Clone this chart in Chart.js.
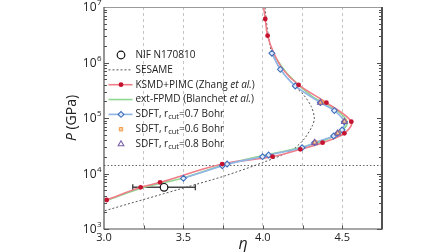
<!DOCTYPE html>
<html><head><meta charset="utf-8">
<script src="https://cdn.jsdelivr.net/npm/chart.js@4.4.0/dist/chart.umd.min.js"></script>
<style>html,body{margin:0;padding:0;background:#fff}#wrap{width:448px;height:252px}</style>
</head><body><div id="wrap"><canvas id="c" width="448" height="252"></canvas></div>
<script>
// ---- data ----
const xTickValues = [3.0, 3.5, 4.0, 4.5];
const xTickLabels = ['3.0', '3.5', '4.0', '4.5'];
const yTickExponents = [3, 4, 5, 6, 7];

const nifEta = [3.378];
const nifP = [5.64e3];
const nifEtaErr = [0.197];

const refLineP = [1.42e4];

const sesameEta = [3.006, 3.5, 3.757, 3.998, 4.173, 4.255, 4.311, 4.324, 4.305, 4.257, 4.215, 4.116, 4.059, 4.034, 4.018, 4.012];
const sesameP   = [2.14e3, 5.48e3, 9.0e3, 1.57e4, 2.54e4, 4.02e4, 7.2e4, 1.0e5, 1.6e5, 2.6e5, 3.43e5, 7.3e5, 1.42e6, 3.1e6, 7.2e6, 1.2e7];

const ksmdEta = [3.017, 3.231, 3.353, 3.744, 4.061, 4.236, 4.376, 4.513, 4.557, 4.40, 4.225, 4.03, 4.015];
const ksmdP   = [3.33e3, 5.63e3, 6.93e3, 1.48e4, 2.01e4, 2.73e4, 3.59e4, 5.3e4, 8.57e4, 1.89e5, 3.94e5, 3.04e6, 6.08e6];

const ksmdCurveEta = [3.017, 3.231, 3.353, 3.744, 4.061, 4.236, 4.376, 4.513, 4.557, 4.40, 4.225, 4.125, 4.068, 4.03, 4.015, 4.0];
const ksmdCurveP   = [3.33e3, 5.63e3, 6.93e3, 1.48e4, 2.01e4, 2.73e4, 3.59e4, 5.3e4, 8.57e4, 1.89e5, 3.94e5, 7.6e5, 1.5e6, 3.04e6, 6.08e6, 1.25e7];

const fpmdEta = [3.006, 3.25, 3.5, 3.75, 4.0, 4.25, 4.4, 4.5, 4.53, 4.46, 4.31, 4.16, 4.053];
const fpmdP   = [3.2e3, 5.6e3, 8.3e3, 1.42e4, 2.1e4, 3.0e4, 4.1e4, 6.0e4, 8.6e4, 1.4e5, 2.45e5, 6.0e5, 1.61e6];

const sdft07Eta = [3.5, 3.745, 3.775, 3.998, 4.036, 4.247, 4.326, 4.446, 4.471, 4.499, 4.513, 4.45, 4.362, 4.204, 4.11, 4.057];
const sdft07P   = [8.2e3, 1.38e4, 1.48e4, 2.01e4, 2.15e4, 2.92e4, 3.59e4, 4.74e4, 5.3e4, 6.08e4, 8.57e4, 1.36e5, 1.89e5, 3.78e5, 7.53e5, 1.47e6];

const sdft06Eta = [4.33, 4.475, 4.516, 4.37];
const sdft06P   = [3.65e4, 5.4e4, 8.7e4, 1.92e5];

const sdft08Eta = [4.326, 4.471, 4.513, 4.362];
const sdft08P   = [3.59e4, 5.3e4, 8.57e4, 1.89e5];

const legendTexts = [
  'NIF N170810',
  'SESAME',
  'KSMD+PIMC (Zhang <i>et al.</i>)',
  'ext-FPMD (Blanchet <i>et al.</i>)',
  'SDFT, r<sub>cut</sub>=0.7 Bohr',
  'SDFT, r<sub>cut</sub>=0.6 Bohr',
  'SDFT, r<sub>cut</sub>=0.8 Bohr'
];

// ---- chart ----
const FONT = '"Open Sans", "Noto Sans", "DejaVu Sans", sans-serif';
function pts(xs, ys) { return xs.map((x, i) => ({x: x, y: ys[i]})); }

const COL = {
  nif: '#111111', sesame: '#555555',
  ksmdDot: '#c4122f', ksmdLine: '#f07c88',
  fpmd: '#8fd68f',
  sdft07Line: '#8fb5e6', sdft07Edge: '#3f6fbf',
  sdft06: '#f29a45', sdft08: '#7b5fa8'
};

const datasets = [
  {data: pts(nifEta, nifP), showLine: false, pointStyle: 'circle', pointRadius: 3.8, pointBorderWidth: 1.2,
   pointBorderColor: COL.nif, pointBackgroundColor: '#ffffff'},
  {data: pts(ksmdEta, ksmdP), showLine: false, pointStyle: 'circle', pointRadius: 2.4, pointBorderWidth: 0,
   pointBackgroundColor: COL.ksmdDot, pointBorderColor: COL.ksmdDot},
  {data: pts(sdft08Eta, sdft08P), showLine: false, pointStyle: 'triangle', pointRadius: 3.3, pointBorderWidth: 1.1,
   pointBorderColor: COL.sdft08, pointBackgroundColor: 'rgba(0,0,0,0)'},
  {data: pts(sdft06Eta, sdft06P), showLine: false, pointStyle: 'rect', pointRadius: 2.4, pointBorderWidth: 1,
   pointBorderColor: COL.sdft06, pointBackgroundColor: 'rgba(248,190,130,0.7)'},
  {data: pts(sdft07Eta, sdft07P), showLine: true, tension: 0.3, borderColor: COL.sdft07Line, borderWidth: 1.6,
   pointStyle: 'rectRot', pointRadius: 2.9, pointBorderWidth: 1.1, pointBorderColor: COL.sdft07Edge,
   pointBackgroundColor: 'rgba(235,242,252,0.85)'},
  {data: pts(ksmdCurveEta, ksmdCurveP), showLine: true, tension: 0.35, borderColor: COL.ksmdLine, borderWidth: 1.6, pointRadius: 0},
  {data: pts(fpmdEta, fpmdP), showLine: true, tension: 0.35, borderColor: COL.fpmd, borderWidth: 1.6, pointRadius: 0},
  {data: pts(sesameEta, sesameP), showLine: true, tension: 0.3, borderColor: COL.sesame, borderWidth: 1,
   borderDash: [2, 2], pointRadius: 0}
];

function parseRich(s) {
  const out = []; let it = false, sub = false;
  s.split(/(<\/?i>|<\/?sub>)/).forEach(t => {
    if (t === '<i>') it = true; else if (t === '</i>') it = false;
    else if (t === '<sub>') sub = true; else if (t === '</sub>') sub = false;
    else if (t) out.push({t, it, sub});
  });
  return out;
}

const deco = {
  id: 'deco',
  beforeDatasetsDraw(chart) {
    const {ctx, chartArea: a, scales: {x, y}} = chart;
    ctx.save();
    ctx.strokeStyle = '#666'; ctx.lineWidth = 1; ctx.setLineDash([1.5, 2]);
    refLineP.forEach(p => {
      const py = Math.round(y.getPixelForValue(p)) + 0.5;
      ctx.beginPath(); ctx.moveTo(a.left, py); ctx.lineTo(a.right, py); ctx.stroke();
    });
    ctx.setLineDash([]); ctx.strokeStyle = '#444'; ctx.lineWidth = 1.4;
    nifEta.forEach((e, i) => {
      const py = y.getPixelForValue(nifP[i]);
      const x1 = x.getPixelForValue(e - nifEtaErr[i]), x2 = x.getPixelForValue(e + nifEtaErr[i]);
      ctx.beginPath();
      ctx.moveTo(x1, py); ctx.lineTo(x2, py);
      ctx.moveTo(x1, py - 3); ctx.lineTo(x1, py + 3);
      ctx.moveTo(x2, py - 3); ctx.lineTo(x2, py + 3);
      ctx.stroke();
    });
    ctx.restore();
  },
  afterDraw(chart) {
    const {ctx, chartArea: a, scales: {x, y}} = chart;
    ctx.save();
    // frame
    ctx.strokeStyle = '#9a9a9a'; ctx.lineWidth = 1;
    ctx.beginPath(); ctx.moveTo(a.left, a.top + 0.5); ctx.lineTo(a.right, a.top + 0.5); ctx.stroke();
    ctx.strokeStyle = '#505050'; ctx.lineWidth = 1.2;
    ctx.beginPath(); ctx.moveTo(a.left, a.top); ctx.lineTo(a.left, a.bottom); ctx.lineTo(a.right, a.bottom); ctx.stroke();
    ctx.lineWidth = 2;
    ctx.beginPath(); ctx.moveTo(a.right, a.top); ctx.lineTo(a.right, a.bottom + 0.6); ctx.stroke();
    // y ticks (log, both sides, inward)
    ctx.lineWidth = 1; ctx.strokeStyle = '#505050';
    for (let d = 3; d <= 6; d++) {
      for (let k = 1; k <= 9; k++) {
        const py = Math.round(y.getPixelForValue(k * Math.pow(10, d))) + 0.5;
        const len = k === 1 ? 5 : 3;
        ctx.beginPath();
        ctx.moveTo(a.left, py); ctx.lineTo(a.left + len, py);
        ctx.moveTo(a.right, py); ctx.lineTo(a.right - len, py);
        ctx.stroke();
      }
    }
    // x ticks inward
    x.ticks.forEach(t => {
      const px = Math.round(x.getPixelForValue(t.value)) + 0.5;
      if (px <= a.left + 1 || px >= a.right - 1) return;
      ctx.beginPath(); ctx.moveTo(px, a.bottom); ctx.lineTo(px, a.bottom - 3.5); ctx.stroke();
    });
    // y tick labels with superscript
    ctx.fillStyle = '#222';
    yTickExponents.forEach(e => {
      const py = y.getPixelForValue(Math.pow(10, e));
      ctx.font = '12px ' + FONT; ctx.textAlign = 'right'; ctx.textBaseline = 'middle';
      ctx.fillText('10', 96.5, py + 1);
      ctx.font = '8px ' + FONT; ctx.textAlign = 'left';
      ctx.fillText(String(e), 97, py - 4);
    });
    // axis titles
    ctx.save();
    ctx.translate(72, (a.top + a.bottom) / 2); ctx.rotate(-Math.PI / 2);
    ctx.textBaseline = 'middle'; ctx.textAlign = 'left';
    const f1 = 'italic 14px ' + FONT, f2 = '14px ' + FONT;
    ctx.font = f1; const w1 = ctx.measureText('P').width;
    ctx.font = f2; const w2 = ctx.measureText(' (GPa)').width;
    let sx = -(w1 + w2) / 2;
    ctx.font = f1; ctx.fillText('P', sx, 0);
    ctx.font = f2; ctx.fillText(' (GPa)', sx + w1, 0);
    ctx.restore();
    ctx.font = 'italic 16px ' + FONT; ctx.textAlign = 'center'; ctx.textBaseline = 'middle';
    ctx.fillText('\u03B7', (a.left + a.right) / 2, 244);
    // legend
    const ds = chart.data.datasets;
    const items = [
      {line: null, mk: ds[0]},
      {line: ds[7], mk: null},
      {line: ds[5], mk: ds[1]},
      {line: ds[6], mk: null},
      {line: ds[4], mk: ds[4]},
      {line: null, mk: ds[3]},
      {line: null, mk: ds[2]}
    ];
    const lx0 = 108.5, lx1 = 132.5, mx = 121, tx = 135.5;
    items.forEach((it, i) => {
      const ly = 55 + i * 14.85;
      if (it.line) {
        ctx.save();
        ctx.strokeStyle = it.line.borderColor; ctx.lineWidth = it.line.borderWidth;
        ctx.setLineDash(it.line.borderDash || []);
        ctx.beginPath(); ctx.moveTo(lx0, ly); ctx.lineTo(lx1, ly); ctx.stroke();
        ctx.restore();
      }
      if (it.mk) {
        ctx.save();
        ctx.fillStyle = it.mk.pointBackgroundColor; ctx.strokeStyle = it.mk.pointBorderColor;
        ctx.lineWidth = it.mk.pointBorderWidth;
        Chart.helpers.drawPoint(ctx, {pointStyle: it.mk.pointStyle, radius: it.mk.pointRadius,
          borderWidth: it.mk.pointBorderWidth, rotation: 0}, mx, ly);
        ctx.restore();
      }
      let cx = tx;
      ctx.fillStyle = '#222'; ctx.textAlign = 'left'; ctx.textBaseline = 'middle';
      parseRich(legendTexts[i]).forEach(seg => {
        ctx.font = (seg.it ? 'italic ' : '') + (seg.sub ? '7.5px ' : '10px ') + FONT;
        ctx.fillText(seg.t, cx, ly + (seg.sub ? 2.5 : 0));
        cx += ctx.measureText(seg.t).width;
      });
    });
    ctx.restore();
  }
};

new Chart(document.getElementById('c'), {
  type: 'scatter',
  data: {datasets},
  options: {
    responsive: false, animation: false, devicePixelRatio: 1,
    layout: {padding: {left: 0, right: 66, top: 7, bottom: 0}},
    plugins: {legend: {display: false}, tooltip: {enabled: false}},
    scales: {
      x: {
        type: 'linear', min: 3.0, max: 4.75,
        afterFit: s => { s.height = 23; },
        border: {display: false, dash: [3, 3]},
        grid: {drawTicks: false, lineWidth: 1,
          color: c => (c.tick && (Math.abs(c.tick.value - 3.0) < 1e-6 || Math.abs(c.tick.value - 4.75) < 1e-6)) ? 'rgba(0,0,0,0)' : '#c4c4c4'},
        ticks: {stepSize: 0.25, autoSkip: false, maxRotation: 0, padding: 2, color: '#222',
          font: {family: FONT, size: 11},
          callback: v => { const i = xTickValues.findIndex(t => Math.abs(t - v) < 1e-6); return i >= 0 ? xTickLabels[i] : ''; }}
      },
      y: {
        type: 'logarithmic', min: 1e3, max: 1e7,
        afterFit: s => { s.width = 104; },
        border: {display: false},
        grid: {display: false},
        ticks: {display: false}
      }
    }
  },
  plugins: [deco]
});
</script>
</body></html>
